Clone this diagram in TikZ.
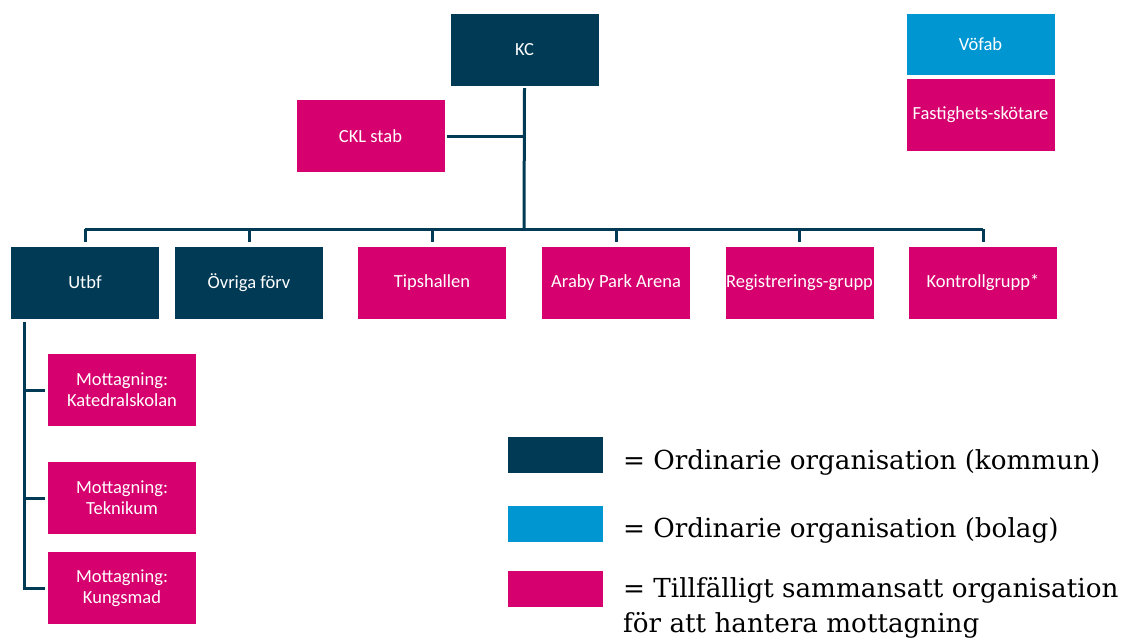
\documentclass[tikz,border=0pt]{standalone}
\usepackage{fontspec}
\setmainfont{DejaVu Serif}
\newfontfamily\boxfont{Carlito}
\usetikzlibrary{calc}
\definecolor{kommun}{RGB}{0,58,85}
\definecolor{bolag}{RGB}{0,150,210}
\definecolor{tillf}{RGB}{214,0,110}
\tikzset{
	orgbox/.style={minimum width=148pt, minimum height=72pt, inner sep=0pt, text=white, font=\boxfont\fontsize{18.5}{21}\selectfont, align=center},
	kommunbox/.style={orgbox, fill=kommun},
	bolagbox/.style={orgbox, fill=bolag},
	tillfbox/.style={orgbox, fill=tillf},
	legbox/.style={minimum width=95pt, minimum height=36pt, inner sep=0pt},
	conn/.style={draw=kommun, line width=3pt},
	legtext/.style={anchor=base west, inner sep=0pt, font=\fontsize{26.2}{35}\selectfont, align=left}
}
\begin{document}
\begin{tikzpicture}[x=1pt, y=-1pt]
	\useasboundingbox (0,0) rectangle (1121,641);
	\node [kommunbox] (kc) at (524.5,50) {KC};
	\node [tillfbox] (ckl) at (370.5,136) {CKL stab};
	\node [bolagbox, minimum height=61pt] (vofab) at (980.5,44.5) {Vöfab};
	\node [tillfbox] (fast) at (980.5,115) {Fastighets-skötare};
	\node [kommunbox] (utbf) at (85,282.5) {Utbf};
	\node [kommunbox] (ovr) at (249,282.5) {Övriga förv};
	\node [tillfbox] (tips) at (432,282.5) {Tipshallen};
	\node [tillfbox] (araby) at (616,282.5) {Araby Park Arena};
	\node [tillfbox] (reg) at (799.5,282.5) {Registrerings-grupp};
	\node [tillfbox] (kontr) at (983,282.5) {Kontrollgrupp*};
	\node [tillfbox] (kat) at (122,390) {Mottagning:\\Katedralskolan};
	\node [tillfbox] (tek) at (122,498) {Mottagning:\\Teknikum};
	\node [tillfbox] (kung) at (122,588) {Mottagning:\\Kungsmad};
	\coordinate (bus) at (524,229);
	\coordinate (trunk) at (24,322);
	\draw [conn] ([yshift=-2pt]kc.south) -- (bus);
	\draw [conn] ([xshift=2pt]ckl.east) -- (ckl.east -| kc.south);
	\draw [conn] (utbf.north |- bus) -- (kontr.north |- bus);
	\foreach \n in {utbf,ovr,tips,araby,reg,kontr}
		\draw [conn] (\n.north |- bus) -- ([yshift=4pt]\n.north);
	\draw [conn] (trunk) |- ([xshift=-3pt]kung.west);
	\draw [conn] (trunk |- kat.west) -- ([xshift=-3pt]kat.west);
	\draw [conn] (trunk |- tek.west) -- ([xshift=-3pt]tek.west);
	\node [legbox, fill=kommun] (legk) at (555.5,455) {};
	\node [legbox, fill=bolag] (legb) at (555.5,523.5) {};
	\node [legbox, fill=tillf] (legt) at (555.5,588.5) {};
	\node [legtext] (legktext) at (623,469) {= Ordinarie organisation (kommun)};
	\node [legtext] (legbtext) at (623,537) {= Ordinarie organisation (bolag)};
	\node [legtext] (legttext) at (623,632) {= Tillfälligt sammansatt organisation\\för att hantera mottagning};
\end{tikzpicture}
\end{document}
